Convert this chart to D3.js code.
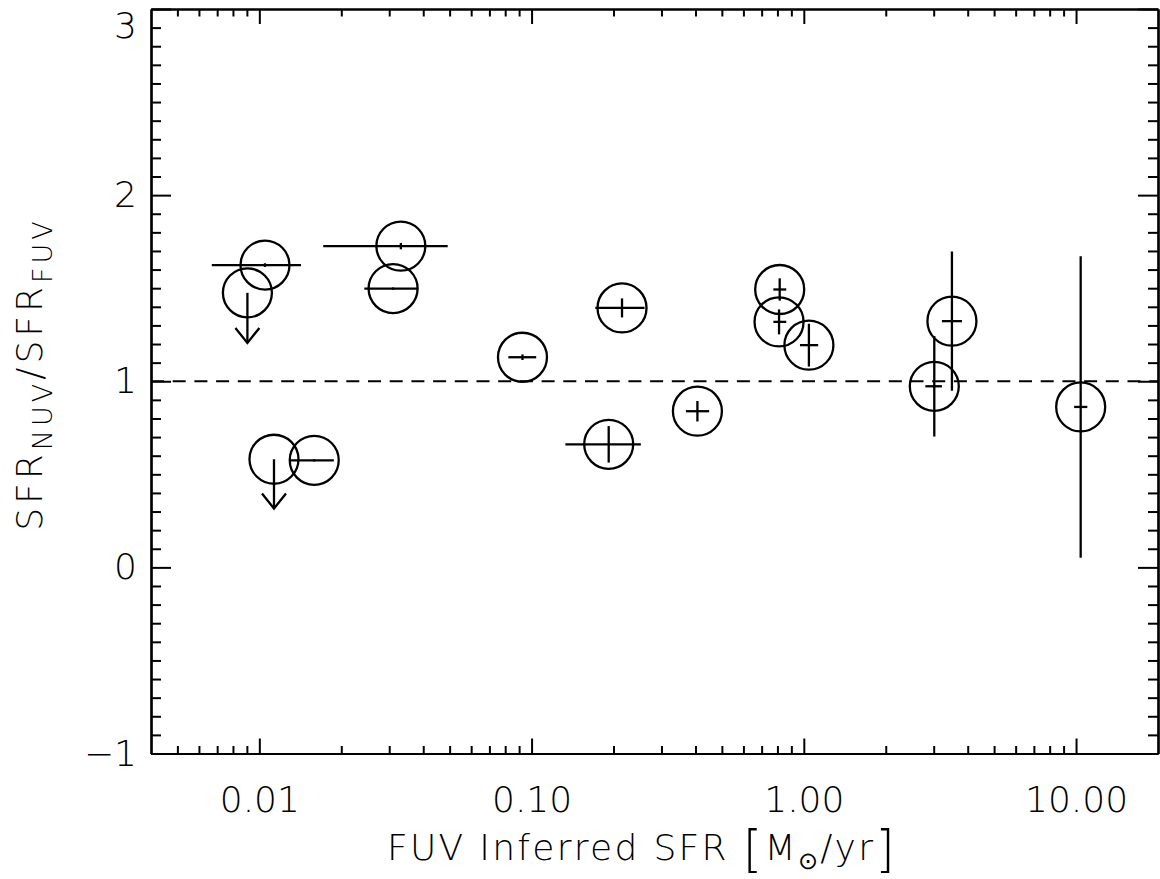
<!DOCTYPE html>
<html>
<head>
<meta charset="utf-8">
<script src="https://cdn.jsdelivr.net/npm/d3@7"></script>
<style>
  body { margin: 0; background: #fff; }
  svg text { font-family: "DejaVu Sans", Roboto, sans-serif; font-weight: 200; fill: #000; }
</style>
</head>
<body>
<script>
// FUV inferred SFR vs ratio of NUV / FUV inferred SFR
var width = 1160;
var height = 879;

// measured points: x = FUV SFR, y = ratio, with error ranges
var sfrFuv   = [0.01049, 0.0331, 0.031, 0.01591, 0.0926, 0.2149, 0.192, 0.4066, 0.8155, 0.811, 1.044, 3.50, 3.015, 10.4];
var xLow     = [0.00669, 0.01717, 0.0243, 0.01288, 0.0822, 0.1715, 0.1331, 0.369, 0.773, 0.773, 0.968, 3.216, 2.795, 9.84];
var xHigh    = [0.01422, 0.0492, 0.0383, 0.01878, 0.104, 0.260, 0.252, 0.449, 0.862, 0.862, 1.129, 3.81, 3.216, 11.0];
var ratio    = [1.624, 1.726, 1.498, 0.575, 1.129, 1.394, 0.661, 0.839, 1.493, 1.319, 1.194, 1.323, 0.973, 0.862];
var ratioErr = [0.01, 0.017, 0.006, 0.006, 0.015, 0.051, 0.098, 0.055, 0.06, 0.067, 0.115, 0.374, 0.27, 0.81];

// upper limits (drawn with arrows)
var limSfr   = [0.00904, 0.01132];
var limRatio = [1.475, 0.581];
var limTip   = [1.206, 0.316];

var xMajor = [0.01, 0.1, 1, 10];
var xMajorLabels = ['0.01', '0.10', '1.00', '10.00'];
var yMajor = [-1, 0, 1, 2, 3];

var x = d3.scaleLog().domain([0.004, 20]).range([151, 1158]);
var y = d3.scaleLinear().domain([-1, 3]).range([753.5, 9]);

var svg = d3.select('body').append('svg')
  .attr('width', width).attr('height', height);

// minor ticks: 2..9 per decade, and every 0.1 on y
var xMinor = [];
[0.001, 0.01, 0.1, 1, 10].forEach(function(d) {
  for (var k = 2; k <= 9; k++) {
    var v = d * k;
    if (v > 0.004 && v < 20) xMinor.push(v);
  }
});
var yMinor = d3.range(-10, 31).map(function(d) { return d / 10; })
  .filter(function(d) { return yMajor.indexOf(d) < 0; });

function styleAxis(g) {
  g.selectAll('path').attr('stroke', '#000').attr('stroke-width', 2.2);
  g.selectAll('line').attr('stroke', '#000').attr('stroke-width', 2);
  g.selectAll('text').style('font-size', '36px');
}

// bottom
svg.append('g').attr('transform', 'translate(0,753.5)')
  .call(d3.axisBottom(x).tickValues(xMajor).tickSize(-15).tickSizeOuter(0)
    .tickPadding(33).tickFormat(function(d, i) { return xMajorLabels[i]; }))
  .call(styleAxis);
svg.append('g').attr('transform', 'translate(0,753.5)')
  .call(d3.axisBottom(x).tickValues(xMinor).tickSize(-7.5).tickSizeOuter(0).tickFormat(''))
  .call(styleAxis);
// top
svg.append('g').attr('transform', 'translate(0,9)')
  .call(d3.axisTop(x).tickValues(xMajor).tickSize(-15).tickSizeOuter(0).tickFormat(''))
  .call(styleAxis);
svg.append('g').attr('transform', 'translate(0,9)')
  .call(d3.axisTop(x).tickValues(xMinor).tickSize(-7.5).tickSizeOuter(0).tickFormat(''))
  .call(styleAxis);
// left
var left = svg.append('g').attr('transform', 'translate(151,0)')
  .call(d3.axisLeft(y).tickValues(yMajor).tickSize(-20).tickSizeOuter(0)
    .tickPadding(14).tickFormat(function(d) { return d < 0 ? '\u2212' + (-d) : d; }))
  .call(styleAxis);
// top label sits a little lower so it stays inside the page
left.selectAll('.tick').filter(function(d) { return d === 3; })
  .select('text').attr('dy', '0.32em').attr('y', 17);
svg.append('g').attr('transform', 'translate(151,0)')
  .call(d3.axisLeft(y).tickValues(yMinor).tickSize(-10).tickSizeOuter(0).tickFormat(''))
  .call(styleAxis);
// right
svg.append('g').attr('transform', 'translate(1158,0)')
  .call(d3.axisRight(y).tickValues(yMajor).tickSize(-20).tickSizeOuter(0).tickFormat(''))
  .call(styleAxis);
svg.append('g').attr('transform', 'translate(1158,0)')
  .call(d3.axisRight(y).tickValues(yMinor).tickSize(-10).tickSizeOuter(0).tickFormat(''))
  .call(styleAxis);

// dashed line at ratio 1
svg.append('line').attr('x1', x(0.004)).attr('x2', x(20))
  .attr('y1', y(1)).attr('y2', y(1))
  .attr('stroke', '#000').attr('stroke-width', 2.2).attr('stroke-dasharray', '13,8.7');

var pts = svg.append('g').attr('stroke', '#000').attr('stroke-width', 2.3).attr('fill', 'none');

sfrFuv.forEach(function(d, i) {
  var g = pts.append('g');
  g.append('line').attr('x1', x(xLow[i])).attr('x2', x(xHigh[i]))
    .attr('y1', y(ratio[i])).attr('y2', y(ratio[i]));
  g.append('line').attr('x1', x(d)).attr('x2', x(d))
    .attr('y1', y(ratio[i] - ratioErr[i])).attr('y2', y(ratio[i] + ratioErr[i]));
  g.append('circle').attr('cx', x(d)).attr('cy', y(ratio[i])).attr('r', 24.5);
});

limSfr.forEach(function(d, i) {
  var g = pts.append('g');
  var cx = x(d), tip = y(limTip[i]);
  g.append('circle').attr('cx', cx).attr('cy', y(limRatio[i])).attr('r', 24.5);
  g.append('line').attr('x1', cx).attr('x2', cx)
    .attr('y1', y(limRatio[i])).attr('y2', tip);
  g.append('path').attr('d', 'M' + (cx - 12) + ',' + (tip - 15) + 'L' + cx + ',' + tip + 'L' + (cx + 12) + ',' + (tip - 15));
});

// axis titles
var xt = svg.append('text').attr('x', 642).attr('y', 860).attr('text-anchor', 'middle')
  .style('font-size', '36px').style('letter-spacing', '2.3px');
xt.append('tspan').text('FUV Inferred SFR ');
xt.append('tspan').style('font-size', '50px').attr('dy', 6).text('[');
xt.append('tspan').attr('dy', -6).text('M');
xt.append('tspan').attr('dy', 9).style('font-size', '24px').text('\u2299');
xt.append('tspan').attr('dy', -9).text('/yr');
xt.append('tspan').style('font-size', '50px').attr('dy', 6).text(']');

var yt = svg.append('text').attr('transform', 'translate(42,374) rotate(-90)')
  .attr('text-anchor', 'middle').style('font-size', '36px').style('letter-spacing', '4px');
yt.append('tspan').text('SFR');
yt.append('tspan').attr('dy', 10).style('font-size', '27px').text('NUV');
yt.append('tspan').attr('dy', -10).text('/SFR');
yt.append('tspan').attr('dy', 10).style('font-size', '27px').text('FUV');
</script>
</body>
</html>
